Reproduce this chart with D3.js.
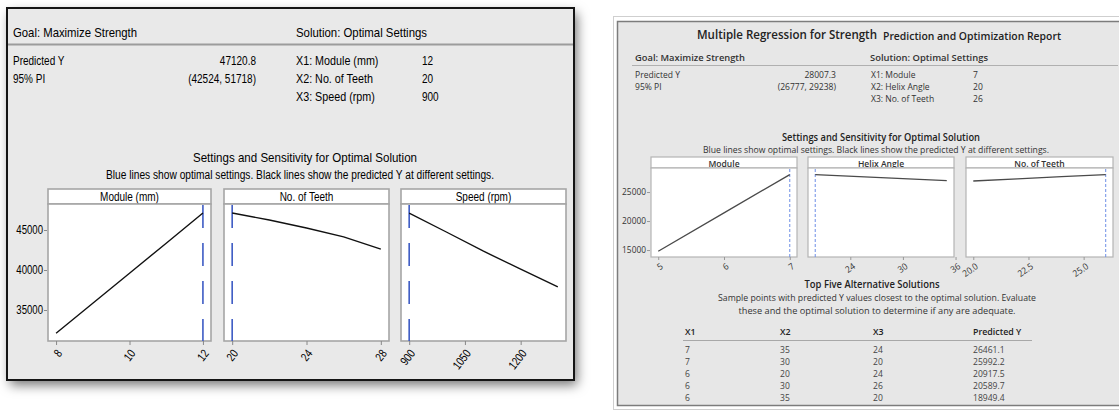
<!DOCTYPE html>
<html><head><meta charset="utf-8">
<script src="https://cdn.jsdelivr.net/npm/d3@7"></script>
<style>
html,body{margin:0;padding:0;background:#fff;}
svg{display:block;}
</style></head><body>
<svg id="c" width="1119" height="412"></svg>
<script>
// ---------------- Left report: data ----------------
const leftGoal = "Goal: Maximize Strength";
const leftSolution = "Solution: Optimal Settings";
const leftSummaryLabels = ["Predicted Y", "95% PI"];
const leftSummaryValues = ["47120.8", "(42524, 51718)"];
const leftSettingLabels = ["X1: Module (mm)", "X2: No. of Teeth", "X3: Speed (rpm)"];
const leftSettingValues = ["12", "20", "900"];
const leftFactors = ["Module (mm)", "No. of Teeth", "Speed (rpm)"];
const leftOptimal = [12, 20, 900];
const leftModuleX = [8, 9, 10, 11, 12];
const leftModuleY = [32100, 35850, 39600, 43350, 47120.8];
const leftTeethX = [20, 22, 24, 26, 28];
const leftTeethY = [47120.8, 46250, 45250, 44150, 42600];
const leftSpeedX = [900, 1000, 1100, 1200, 1300];
const leftSpeedY = [47120.8, 44750, 42350, 40100, 37900];
const leftXTicks = [[8, 10, 12], [20, 24, 28], [900, 1050, 1200]];
const leftYTicks = [35000, 40000, 45000];

// ---------------- Right report: data ----------------
const rightTitleMain = "Multiple Regression for Strength";
const rightTitleSub = "Prediction and Optimization Report";
const rightGoal = "Goal: Maximize Strength";
const rightSolution = "Solution: Optimal Settings";
const rightSummaryLabels = ["Predicted Y", "95% PI"];
const rightSummaryValues = ["28007.3", "(26777, 29238)"];
const rightSettingLabels = ["X1: Module", "X2: Helix Angle", "X3: No. of Teeth"];
const rightSettingValues = ["7", "20", "26"];
const rightFactors = ["Module", "Helix Angle", "No. of Teeth"];
const rightOptimal = [7, 20, 26];
const rightModuleX = [5, 6, 7];
const rightModuleY = [14800, 21400, 28007.3];
const rightHelixX = [20, 25, 30, 35];
const rightHelixY = [28007.3, 27650, 27300, 26950];
const rightTeethX = [20, 22, 24, 26];
const rightTeethY = [26900, 27270, 27640, 28007.3];
const rightXTicks = [[5, 6, 7], [24, 30, 36], [20.0, 22.5, 25.0]];
const rightXTickFormats = [d3.format("d"), d3.format("d"), d3.format(".1f")];
const rightYTicks = [15000, 20000, 25000];

const altHeaders = ["X1", "X2", "X3", "Predicted Y"];
const altX1 = [7, 7, 6, 6, 6];
const altX2 = [35, 30, 20, 30, 35];
const altX3 = [24, 20, 24, 26, 20];
const altY = ["26461.1", "25992.2", "20917.5", "20589.7", "18949.4"];

const sectionTitle = "Settings and Sensitivity for Optimal Solution";
const sectionSub = "Blue lines show optimal settings. Black lines show the predicted Y at different settings.";
const altTitle = "Top Five Alternative Solutions";
const altSub1 = "Sample points with predicted Y values closest to the optimal solution. Evaluate";
const altSub2 = "these and the optimal solution to determine if any are adequate.";

// ---------------- helpers ----------------
const svg = d3.select("#c");
const defs = svg.append("defs");
const f = defs.append("filter").attr("id", "shadow")
  .attr("x", "-10%").attr("y", "-10%").attr("width", "125%").attr("height", "130%");
f.append("feDropShadow").attr("dx", 3).attr("dy", 5).attr("stdDeviation", 6)
  .attr("flood-color", "#000").attr("flood-opacity", 0.55);

function condense(sel, factor) {
  if (!factor || factor === 1) return;
  sel.each(function () {
    const w = this.getComputedTextLength();
    d3.select(this).attr("textLength", w * factor).attr("lengthAdjust", "spacingAndGlyphs");
  });
}

function txt(g, s, x, y, o = {}) {
  const t = g.append("text").attr("x", x).attr("y", y)
    .attr("dominant-baseline", "central")
    .attr("font-family", o.family)
    .attr("font-size", o.size)
    .attr("font-weight", o.weight || "normal")
    .attr("fill", o.color || "#111")
    .attr("text-anchor", o.anchor || "start")
    .text(s);
  if (o.width) t.attr("textLength", o.width).attr("lengthAdjust", "spacingAndGlyphs");
  else condense(t, o.condense);
  return t;
}

function padded(xs) {
  const [a, b] = d3.extent(xs);
  const p = (b - a) * 0.055;
  return [a - p, b + p];
}

function drawSensitivity(g, cfg) {
  const y = d3.scaleLinear().domain(cfg.yDomain).range([cfg.plotBottom, cfg.plotTop]);
  cfg.panels.forEach((p, i) => {
    const x = d3.scaleLinear().domain(p.domain || padded(p.xs)).range([p.x0, p.x1]);
    // strip
    g.append("rect").attr("x", p.x0).attr("y", cfg.stripTop)
      .attr("width", p.x1 - p.x0).attr("height", cfg.plotTop - cfg.stripTop)
      .attr("fill", "#fff").attr("stroke", cfg.frameColor).attr("stroke-width", cfg.frameWidth);
    txt(g, p.label, (p.x0 + p.x1) / 2, (cfg.stripTop + cfg.plotTop) / 2 + 0.5,
      { family: cfg.family, size: cfg.stripSize, anchor: "middle", color: cfg.textColor,
        weight: cfg.stripWeight, condense: cfg.condense });
    // plot area
    g.append("rect").attr("x", p.x0).attr("y", cfg.plotTop)
      .attr("width", p.x1 - p.x0).attr("height", cfg.plotBottom - cfg.plotTop)
      .attr("fill", "#fff").attr("stroke", cfg.frameColor).attr("stroke-width", cfg.frameWidth);
    // x axis
    const ax = g.append("g").attr("transform", `translate(0,${cfg.plotBottom})`)
      .call(d3.axisBottom(x).tickValues(p.ticks).tickSize(cfg.tickLen).tickFormat(p.fmt || d3.format("d")));
    ax.select(".domain").remove();
    ax.selectAll(".tick line").attr("stroke", cfg.tickColor).attr("stroke-width", 1);
    const xt = ax.selectAll(".tick text")
      .attr("font-family", cfg.family).attr("font-size", cfg.tickSize).attr("fill", cfg.textColor)
      .attr("text-anchor", "end").attr("dy", null).attr("y", null).attr("x", null)
      .attr("dominant-baseline", "central")
      .attr("transform", `translate(${cfg.tickDx},${cfg.tickDy}) rotate(${cfg.tickRot})`);
    condense(xt, cfg.condense);
    // optimal setting line
    g.append("line").attr("x1", x(p.opt)).attr("x2", x(p.opt))
      .attr("y1", cfg.plotTop + 1).attr("y2", cfg.plotBottom)
      .attr("stroke", cfg.blue).attr("stroke-width", cfg.blueWidth)
      .attr("stroke-dasharray", cfg.blueDash);
    // predicted line
    const line = d3.line().x((d, j) => x(p.xs[j])).y((d) => y(d));
    g.append("path").datum(p.ys).attr("d", line)
      .attr("fill", "none").attr("stroke", cfg.lineColor).attr("stroke-width", cfg.lineWidth);
    if (i === 0) {
      const ay = g.append("g").attr("transform", `translate(${p.x0 - 1},0)`)
        .call(d3.axisLeft(y).tickValues(cfg.yTicks).tickSize(cfg.yTickLen).tickPadding(1).tickFormat(d3.format("d")));
      ay.select(".domain").remove();
      ay.selectAll(".tick line").attr("stroke", cfg.tickColor);
      const yt = ay.selectAll(".tick text").attr("font-family", cfg.family).attr("font-size", cfg.tickSize)
        .attr("fill", cfg.textColor);
      condense(yt, cfg.condense);
    }
  });
}

// ================= LEFT REPORT =================
const LF = "'Liberation Sans', Arial, sans-serif";
const LC = 0.8;
const L = svg.append("g");
L.append("rect").attr("x", 7).attr("y", 8).attr("width", 567).attr("height", 372)
  .attr("fill", "#e9e9e9").attr("filter", "url(#shadow)");
L.append("rect").attr("x", 7).attr("y", 8).attr("width", 567).attr("height", 372)
  .attr("fill", "none").attr("stroke", "#151515").attr("stroke-width", 2);
txt(L, leftGoal, 13, 32, { family: LF, size: 13, width: 124, color: "#000" });
txt(L, leftSolution, 296, 32, { family: LF, size: 13, width: 131, color: "#000" });
L.append("line").attr("x1", 8).attr("x2", 573).attr("y1", 44.5).attr("y2", 44.5)
  .attr("stroke", "#9c9c9c").attr("stroke-width", 2);
const leftRows = [61, 79, 97];
leftSummaryLabels.forEach((s, i) => txt(L, s, 13, leftRows[i], { family: LF, size: 12.5, condense: LC, color: "#000" }));
leftSummaryValues.forEach((s, i) => txt(L, s, 256, leftRows[i], { family: LF, size: 12.5, anchor: "end", condense: LC, color: "#000" }));
leftSettingLabels.forEach((s, i) => txt(L, s, 296, leftRows[i], { family: LF, size: 12.5, condense: 0.86, color: "#000" }));
leftSettingValues.forEach((s, i) => txt(L, s, 422, leftRows[i], { family: LF, size: 12.5, condense: LC, color: "#000" }));
txt(L, sectionTitle, 305, 157, { family: LF, size: 13.5, anchor: "middle", width: 224, color: "#000" });
txt(L, sectionSub, 300, 175, { family: LF, size: 12.5, anchor: "middle", width: 388, color: "#000" });

drawSensitivity(L, {
  family: LF, textColor: "#000", stripSize: 12.5, tickSize: 12, condense: LC,
  stripTop: 189, plotTop: 204, plotBottom: 341,
  yDomain: [31125, 48250], yTicks: leftYTicks, yTickLen: 3,
  frameColor: "#a6a6a6", frameWidth: 1.6, tickColor: "#888", tickLen: 4,
  tickDx: 3, tickDy: 10, tickRot: -52,
  blue: "#3e5cc4", blueWidth: 1.6, blueDash: "23,15",
  lineColor: "#111", lineWidth: 1.4,
  panels: [
    { x0: 48, x1: 211, label: leftFactors[0], xs: leftModuleX, ys: leftModuleY, opt: leftOptimal[0], ticks: leftXTicks[0] },
    { x0: 224, x1: 389, label: leftFactors[1], xs: leftTeethX, ys: leftTeethY, opt: leftOptimal[1], ticks: leftXTicks[1] },
    { x0: 401, x1: 566, label: leftFactors[2], xs: leftSpeedX, ys: leftSpeedY, opt: leftOptimal[2], ticks: leftXTicks[2] }
  ]
});

// ================= RIGHT REPORT =================
const RF = "'Open Sans', 'Noto Sans', sans-serif";
const RC = 0.93;
const R = svg.append("g");
R.append("rect").attr("x", 613.5).attr("y", 16.5).attr("width", 510).attr("height", 393)
  .attr("fill", "#fff").attr("stroke", "#cfcfcf").attr("stroke-width", 1);
R.append("rect").attr("x", 617.5).attr("y", 21.5).attr("width", 505).attr("height", 384)
  .attr("fill", "#e7e7e7").attr("stroke", "#7c7c7c").attr("stroke-width", 1.5);
txt(R, rightTitleMain, 697, 34, { family: RF, size: 13, weight: 600, color: "#222", width: 180 });
txt(R, rightTitleSub, 883, 35, { family: RF, size: 11, weight: 600, color: "#222", width: 178 });
txt(R, rightGoal, 635, 57, { family: RF, size: 9.5, weight: 600, color: "#333", width: 110 });
txt(R, rightSolution, 870, 57, { family: RF, size: 9.5, weight: 600, color: "#333", width: 118 });
R.append("line").attr("x1", 632).attr("x2", 1118).attr("y1", 65.5).attr("y2", 65.5)
  .attr("stroke", "#b0b0b0").attr("stroke-width", 1);
const rightRows = [74, 86, 98];
rightSummaryLabels.forEach((s, i) => txt(R, s, 635, rightRows[i], { family: RF, size: 9.2, color: "#333", condense: RC }));
rightSummaryValues.forEach((s, i) => txt(R, s, 836, rightRows[i], { family: RF, size: 9.2, color: "#333", anchor: "end", condense: RC }));
rightSettingLabels.forEach((s, i) => txt(R, s, 871, rightRows[i], { family: RF, size: 9.2, color: "#333", condense: RC }));
rightSettingValues.forEach((s, i) => txt(R, s, 973, rightRows[i], { family: RF, size: 9.2, color: "#333", condense: RC }));
txt(R, sectionTitle, 881, 137, { family: RF, size: 10.5, weight: 600, color: "#222", anchor: "middle", width: 198 });
txt(R, sectionSub, 876, 149, { family: RF, size: 9, color: "#333", anchor: "middle", width: 346 });

drawSensitivity(R, {
  family: RF, textColor: "#333", stripSize: 9.2, stripWeight: 600, tickSize: 9, condense: RC,
  stripTop: 157, plotTop: 168, plotBottom: 257,
  yDomain: [13800, 29140], yTicks: rightYTicks, yTickLen: 3,
  frameColor: "#b4b4b4", frameWidth: 1.2, tickColor: "#999", tickLen: 3,
  tickDx: 3, tickDy: 8, tickRot: -35,
  blue: "#6d8ee6", blueWidth: 1, blueDash: "3,2",
  lineColor: "#4a4a4a", lineWidth: 1.3,
  panels: [
    { x0: 651, x1: 797, label: rightFactors[0], xs: rightModuleX, ys: rightModuleY, opt: rightOptimal[0], ticks: rightXTicks[0], fmt: rightXTickFormats[0] },
    { x0: 808, x1: 954, label: rightFactors[1], xs: rightHelixX, ys: rightHelixY, opt: rightOptimal[1], ticks: rightXTicks[1], fmt: rightXTickFormats[1] },
    { x0: 966, x1: 1113, label: rightFactors[2], xs: rightTeethX, ys: rightTeethY, opt: rightOptimal[2], ticks: rightXTicks[2], fmt: rightXTickFormats[2] }
  ]
});

txt(R, altTitle, 872, 284, { family: RF, size: 10, weight: 600, color: "#222", anchor: "middle", width: 135 });
txt(R, altSub1, 877, 297, { family: RF, size: 9, color: "#333", anchor: "middle", width: 318 });
txt(R, altSub2, 877, 310, { family: RF, size: 9, color: "#333", anchor: "middle", width: 277 });
const colX = [685, 780, 873, 973];
altHeaders.forEach((s, i) => txt(R, s, colX[i], 331, { family: RF, size: 9.5, weight: 600, color: "#222", condense: RC }));
R.append("line").attr("x1", 683).attr("x2", 1032).attr("y1", 340.5).attr("y2", 340.5)
  .attr("stroke", "#a8a8a8").attr("stroke-width", 1);
const altRowY = d3.range(altY.length).map(i => 349 + i * 12);
[altX1, altX2, altX3, altY].forEach((col, c) => {
  col.forEach((v, r) => txt(R, String(v), colX[c], altRowY[r], { family: RF, size: 9.2, color: "#444", condense: RC }));
});
</script>
</body></html>
